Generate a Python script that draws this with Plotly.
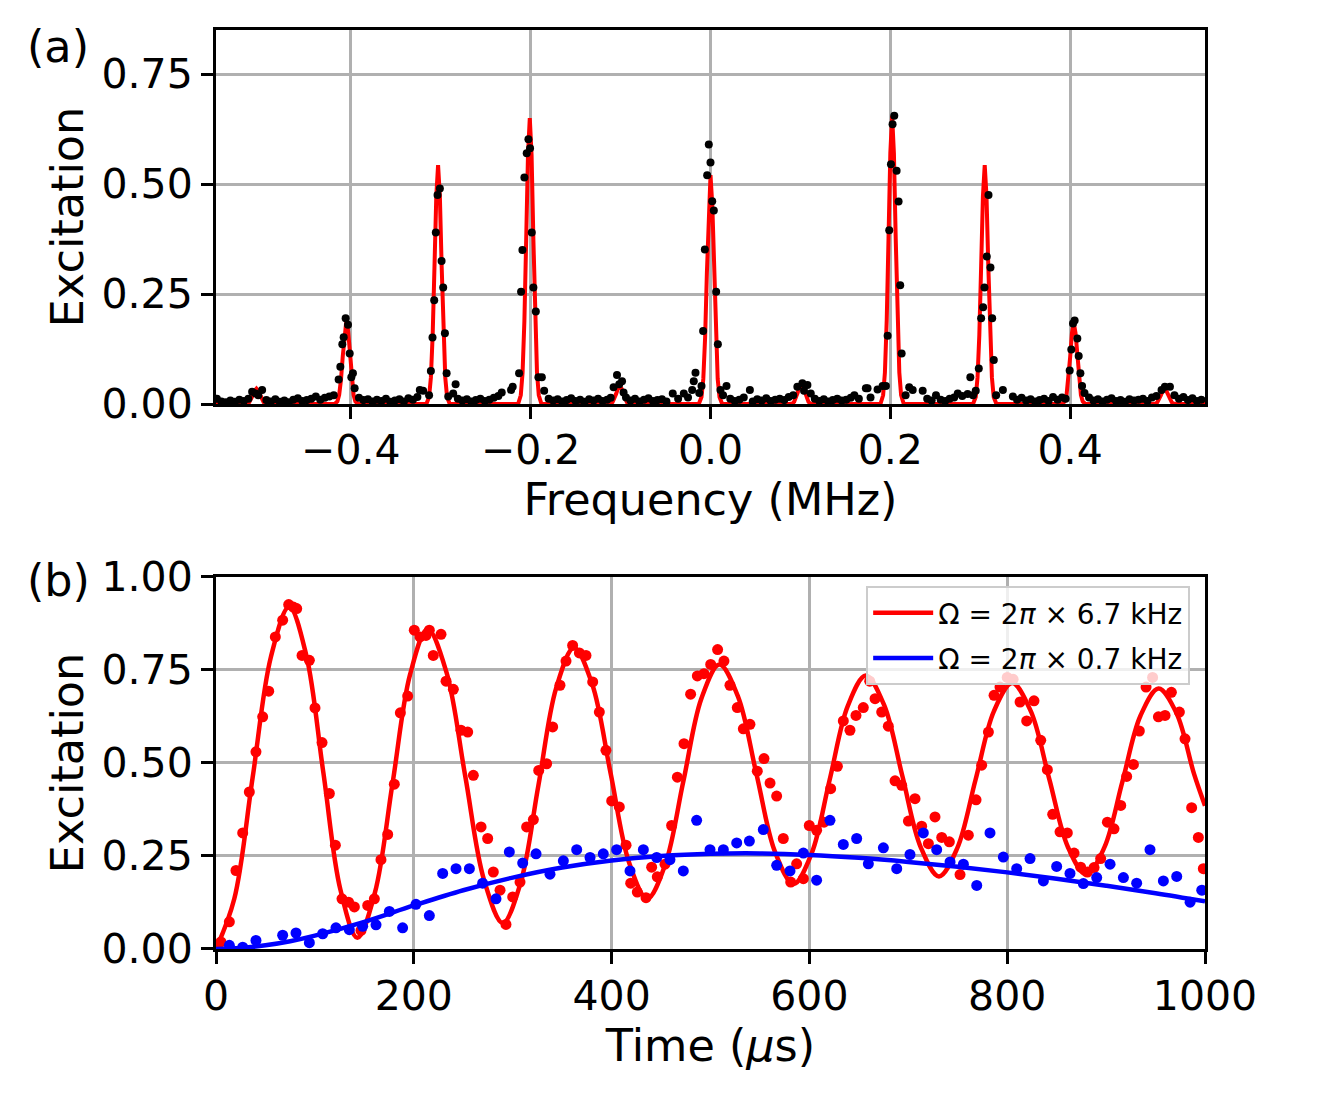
import plotly.graph_objects as go

# ---------------- Panel (a): spectrum ----------------
freq_fit = [-0.55,
    -0.518, -0.515, -0.513, -0.511, -0.509, -0.507, -0.505, -0.503, -0.501, -0.499, -0.497, -0.495, -0.492,
    -0.418, -0.415, -0.413, -0.411, -0.409, -0.407, -0.405, -0.403, -0.401, -0.399, -0.397, -0.395, -0.392,
    -0.316, -0.313, -0.311, -0.309, -0.307, -0.305, -0.303, -0.301, -0.299, -0.297, -0.295, -0.293, -0.290,
    -0.214, -0.211, -0.209, -0.207, -0.205, -0.203, -0.201, -0.199, -0.197, -0.195, -0.193, -0.191, -0.188,
    -0.114, -0.111, -0.109, -0.107, -0.105, -0.103, -0.101, -0.099, -0.097, -0.095, -0.093, -0.091, -0.088,
    -0.013, -0.010, -0.008, -0.006, -0.004, -0.002, 0.000, 0.002, 0.004, 0.006, 0.008, 0.010, 0.013,
    0.088, 0.091, 0.093, 0.095, 0.097, 0.099, 0.101, 0.103, 0.105, 0.107, 0.109, 0.111, 0.114,
    0.189, 0.192, 0.194, 0.196, 0.198, 0.200, 0.202, 0.204, 0.206, 0.208, 0.210, 0.212, 0.215,
    0.292, 0.295, 0.297, 0.299, 0.301, 0.303, 0.305, 0.307, 0.309, 0.311, 0.313, 0.315, 0.318,
    0.391, 0.394, 0.396, 0.398, 0.400, 0.402, 0.404, 0.406, 0.408, 0.410, 0.412, 0.414, 0.417,
    0.492, 0.495, 0.497, 0.499, 0.501, 0.503, 0.505, 0.507, 0.509, 0.511, 0.513, 0.515, 0.518,
    0.55]
exc_fit = [0.0,
    0, .001, .004, .010, .020, .030, .035, .030, .020, .010, .004, .001, 0,
    0, .006, .021, .055, .109, .165, .190, .165, .109, .055, .021, .006, 0,
    0, .016, .060, .157, .312, .472, .543, .472, .312, .157, .060, .016, 0,
    0, .020, .072, .189, .374, .566, .650, .566, .374, .189, .072, .020, 0,
    0, .001, .004, .012, .023, .035, .040, .035, .023, .012, .004, .001, 0,
    0, .016, .057, .151, .299, .452, .520, .452, .299, .151, .057, .016, 0,
    0, .001, .005, .013, .026, .039, .045, .039, .026, .013, .005, .001, 0,
    0, .020, .072, .190, .377, .570, .655, .570, .377, .190, .072, .020, 0,
    0, .016, .060, .157, .312, .472, .543, .472, .312, .157, .060, .016, 0,
    0, .006, .020, .054, .106, .161, .185, .161, .106, .054, .020, .006, 0,
    0, .001, .004, .010, .020, .030, .035, .030, .020, .010, .004, .001, 0,
    0.0]

freq_data = [
    -0.549, -0.544, -0.539, -0.534, -0.529, -0.524, -0.519, -0.514,
    -0.5098, -0.506, -0.503, -0.4987,
    -0.494, -0.489, -0.484, -0.479, -0.474, -0.469, -0.464, -0.459, -0.454, -0.449, -0.444, -0.439,
    -0.434, -0.429, -0.424, -0.419,
    -0.4136, -0.4117, -0.4095, -0.408, -0.4058, -0.4032, -0.4013, -0.3995, -0.3977, -0.3958,
    -0.391, -0.386, -0.381, -0.376, -0.371, -0.366, -0.361, -0.356, -0.351, -0.346, -0.341, -0.336,
    -0.331, -0.326,
    -0.3233, -0.3196, -0.313, -0.311, -0.3092, -0.3073, -0.3055, -0.3036, -0.301, -0.2991, -0.2973,
    -0.2954, -0.2935, -0.2917, -0.2862, -0.2835,
    -0.281, -0.276, -0.271, -0.266, -0.261, -0.256, -0.251, -0.246, -0.241, -0.236,
    -0.2322, -0.2218, -0.22, -0.2129, -0.2107, -0.2092, -0.207, -0.2044, -0.2025, -0.2007, -0.1988,
    -0.197, -0.1943, -0.1914, -0.1876, -0.185,
    -0.18, -0.175, -0.17, -0.165, -0.16, -0.155, -0.15, -0.145, -0.14, -0.135, -0.13, -0.125, -0.12,
    -0.115, -0.111,
    -0.1078, -0.104, -0.1015, -0.0984, -0.0967, -0.094,
    -0.089, -0.084, -0.079, -0.074, -0.069, -0.064, -0.059, -0.054, -0.049, -0.042, -0.036, -0.0297,
    -0.025,
    -0.0204, -0.0186, -0.0167, -0.0125, -0.01, -0.0082, -0.0063, -0.0037, -0.0019, 0.0, 0.0019,
    0.0037, 0.0063, 0.0082, 0.0111, 0.014, 0.0178,
    0.022, 0.027, 0.032, 0.037, 0.0438, 0.047, 0.052, 0.057, 0.062, 0.067, 0.072, 0.077, 0.082,
    0.087,
    0.092, 0.0966, 0.1022, 0.104, 0.1078, 0.1115,
    0.116, 0.121, 0.126, 0.131, 0.136, 0.141, 0.146, 0.151, 0.156, 0.16, 0.165, 0.1728, 0.1747,
    0.178, 0.1858,
    0.1914, 0.1951, 0.197, 0.1988, 0.2007, 0.2025, 0.2044, 0.207, 0.2092, 0.211, 0.2126, 0.217,
    0.221, 0.2249, 0.236,
    0.241, 0.246, 0.2508, 0.256, 0.261, 0.266, 0.271, 0.275, 0.28, 0.286,
    0.289, 0.292, 0.295, 0.2984, 0.301, 0.3032, 0.3047, 0.3073, 0.3092, 0.3114, 0.3133, 0.3151,
    0.3177, 0.3252, 0.3363,
    0.341, 0.346, 0.351, 0.356, 0.361, 0.366, 0.371, 0.376, 0.381, 0.386, 0.391, 0.395,
    0.3995, 0.4013, 0.4032, 0.405, 0.408, 0.4095, 0.4114, 0.4133, 0.416, 0.421,
    0.426, 0.431, 0.436, 0.441, 0.446, 0.451, 0.456, 0.461, 0.466, 0.471, 0.476, 0.481, 0.486,
    0.491, 0.496, 0.5017, 0.5054, 0.511, 0.516, 0.521, 0.526, 0.531, 0.536, 0.541, 0.546]
exc_data = [
    0.012, 0.006, 0.004, 0.008, 0.005, 0.010, 0.007, 0.012,
    0.028, 0.024, 0.020, 0.032,
    0.009, 0.006, 0.011, 0.005, 0.008, 0.004, 0.010, 0.013, 0.007, 0.009, 0.012, 0.017,
    0.010, 0.014, 0.017, 0.020,
    0.056, 0.085, 0.136, 0.152, 0.195, 0.180, 0.115, 0.061, 0.070, 0.036,
    0.014, 0.009, 0.011, 0.006, 0.010, 0.007, 0.012, 0.005, 0.008, 0.011, 0.006, 0.013,
    0.010, 0.016,
    0.032, 0.030, 0.020, 0.075, 0.151, 0.236, 0.390, 0.475, 0.490, 0.325, 0.265,
    0.161, 0.070, 0.017, 0.024, 0.045,
    0.012, 0.008, 0.011, 0.006, 0.009, 0.012, 0.007, 0.010, 0.014, 0.018,
    0.026, 0.032, 0.039, 0.070, 0.255, 0.350, 0.515, 0.570, 0.602, 0.581, 0.390,
    0.265, 0.210, 0.061, 0.061, 0.030,
    0.012, 0.008, 0.011, 0.006, 0.009, 0.013, 0.007, 0.010, 0.005, 0.011, 0.008, 0.012, 0.007,
    0.010, 0.014,
    0.038, 0.066, 0.045, 0.052, 0.026, 0.015,
    0.008, 0.012, 0.006, 0.010, 0.013, 0.007, 0.009, 0.011, 0.006, 0.024, 0.012, 0.024,
    0.015,
    0.032, 0.052, 0.071, 0.025, 0.041, 0.166, 0.351, 0.520, 0.590, 0.549, 0.461,
    0.440, 0.255, 0.136, 0.032, 0.020, 0.041,
    0.012, 0.007, 0.010, 0.015, 0.032, 0.006, 0.011, 0.008, 0.013, 0.007, 0.010, 0.012, 0.009,
    0.016,
    0.020, 0.039, 0.047, 0.030, 0.043, 0.024,
    0.012, 0.007, 0.011, 0.006, 0.009, 0.012, 0.008, 0.010, 0.014, 0.020, 0.012, 0.036, 0.036,
    0.015, 0.033,
    0.041, 0.041, 0.155, 0.395, 0.545, 0.636, 0.655, 0.530, 0.460, 0.270, 0.115, 0.020,
    0.038, 0.032, 0.030,
    0.012, 0.008, 0.020, 0.010, 0.007, 0.012, 0.015, 0.024, 0.018, 0.023,
    0.061, 0.020, 0.030, 0.081, 0.195, 0.220, 0.265, 0.335, 0.475, 0.310, 0.195, 0.100,
    0.020, 0.032, 0.017,
    0.010, 0.014, 0.008, 0.011, 0.006, 0.009, 0.012, 0.007, 0.016, 0.010, 0.015, 0.012,
    0.076, 0.124, 0.183, 0.190, 0.149, 0.109, 0.070, 0.041, 0.025, 0.015,
    0.008, 0.011, 0.006, 0.010, 0.013, 0.007, 0.009, 0.005, 0.011, 0.008, 0.010, 0.012, 0.007,
    0.015, 0.018, 0.032, 0.039, 0.039, 0.020, 0.012, 0.016, 0.009, 0.013, 0.007, 0.010]

freq_ticks = [-0.4, -0.2, 0.0, 0.2, 0.4]
freq_tick_labels = ["\u22120.4", "\u22120.2", "0.0", "0.2", "0.4"]
exc_ticks_a = [0.0, 0.25, 0.5, 0.75]
exc_tick_labels_a = ["0.00", "0.25", "0.50", "0.75"]

# ---------------- Panel (b): Rabi oscillations ----------------
t_fast_fit = [0, 18.5, 37, 55.5, 74, 91.25, 108.5, 125.75, 143, 160.75, 178.5, 196.25, 214,
              233, 252, 271, 290, 308, 326, 344, 362, 380.5, 399, 417.5, 436, 454.25, 472.5,
              490.75, 509, 527.75, 546.5, 565.25, 584, 602.25, 620.5, 638.75, 657, 675.5, 694,
              712.5, 731, 749.5, 768, 786.5, 805, 823.75, 842.5, 861.25, 880, 898.25, 916.5,
              934.75, 953, 971, 989, 1000]
exc_fast_fit = [0.0, 0.135, 0.46, 0.785, 0.92, 0.79, 0.475, 0.16, 0.03, 0.152, 0.445, 0.738, 0.86,
                0.744, 0.465, 0.186, 0.07, 0.178, 0.44, 0.702, 0.81, 0.711, 0.4725, 0.234, 0.135,
                0.227, 0.45, 0.673, 0.765, 0.679, 0.47, 0.261, 0.175, 0.257, 0.455, 0.653, 0.735,
                0.656, 0.465, 0.274, 0.195, 0.271, 0.455, 0.639, 0.715, 0.64, 0.4575, 0.275, 0.20,
                0.273, 0.45, 0.627, 0.70, 0.635, 0.47, 0.385]

t_fast = [5, 13.5, 20.2, 27, 33.7, 40.4, 47.2, 53.3, 60, 67.4, 73.5, 78.2, 81.6, 87, 94.4, 100.1,
          107.2, 114.6, 120.7, 127.4, 134.1, 139.9, 146.6, 153.4, 160.1, 166.8, 173.6, 180.3,
          186.4, 193.8, 200.5, 206.3, 212.3, 215.7, 219.7, 227.5, 232.6, 240, 247.7, 254.5,
          260.2, 268, 274.7, 280.4, 287.2, 293.2, 300, 307.4, 314.1, 320.9, 326.3,
          334.3, 340.4, 347.8, 353.9, 360.6, 367.4, 374.1, 380.9, 387.6, 394.3, 400.1, 407.8,
          414.6, 419.3, 426, 434.8, 440.5, 446.2, 454, 460.7, 466.5, 473.2, 479.9, 486.7, 493.4,
          500.2, 507.2, 513.6, 519.7, 527.1, 533.2, 539.9, 547.3, 554.1, 560.2, 566.9, 573.6,
          581.1, 587.1, 593.9, 599.9, 607.3, 614.8, 621.5, 628.3, 634.3, 641, 647.1, 654.5,
          661, 666.4, 673.1, 679.8, 686.6, 693.3, 700.1, 706.8, 713.5, 720.3, 727, 733.8, 741.5,
          752.3, 760.7, 768.5, 774.2, 781, 786.7, 792.7, 800, 806, 813, 819.7, 827.1, 833.9,
          840.6, 846, 853.4, 860.8, 867.6, 874.3, 881.1, 887.8, 894.5, 901.3, 908, 914.8, 920.8,
          927.6, 933.6, 940.4, 947, 952.9, 959.6, 966, 974.1, 979.8, 986.5, 993.3, 998.3]
exc_fast = [0.019, 0.073, 0.211, 0.312, 0.422, 0.53, 0.624, 0.693, 0.839, 0.884, 0.926, 0.919,
            0.915, 0.789, 0.776, 0.648, 0.555, 0.418, 0.279, 0.135, 0.126, 0.113, 0.05, 0.117,
            0.135, 0.24, 0.308, 0.443, 0.635, 0.68, 0.857, 0.839, 0.843, 0.857, 0.789, 0.846,
            0.72, 0.698, 0.588, 0.583, 0.467, 0.328, 0.297, 0.207, 0.158, 0.066, 0.14, 0.18,
            0.328, 0.348, 0.48,
            0.498, 0.597, 0.709, 0.774, 0.816, 0.796, 0.789, 0.718, 0.637, 0.534, 0.398, 0.382,
            0.279, 0.177, 0.153, 0.138, 0.22, 0.194, 0.228, 0.332, 0.462, 0.552, 0.685, 0.734,
            0.74, 0.765, 0.805, 0.774, 0.709, 0.649, 0.592, 0.604, 0.478, 0.512, 0.446, 0.411,
            0.297, 0.18, 0.229, 0.189, 0.332, 0.319, 0.341, 0.431, 0.491, 0.613, 0.588, 0.628,
            0.649,
            0.72, 0.673, 0.637, 0.599, 0.452, 0.44, 0.344, 0.404, 0.33, 0.283, 0.355, 0.30,
            0.288, 0.20, 0.306, 0.401, 0.494, 0.583, 0.682, 0.704, 0.73, 0.725, 0.664, 0.613,
            0.667, 0.561, 0.482, 0.362, 0.315, 0.312, 0.258, 0.22, 0.207, 0.219, 0.243, 0.341,
            0.323, 0.386, 0.464, 0.496, 0.586, 0.704, 0.73, 0.624, 0.628, 0.69, 0.637, 0.565,
            0.38, 0.30, 0.216]

t_slow_fit = [0, 25, 50, 75, 100, 150, 200, 250, 300, 350, 400, 450, 500, 550, 600, 650, 700,
              750, 800, 850, 900, 950, 1000]
exc_slow_fit = [0.0, 0.003, 0.01, 0.021, 0.036, 0.073, 0.117, 0.158, 0.192, 0.219, 0.238, 0.25,
                0.256, 0.257, 0.253, 0.245, 0.234, 0.221, 0.206, 0.189, 0.17, 0.15, 0.128]

t_slow = [13.5, 27, 40.4, 67.4, 80.9, 94.4, 107.9, 121.3, 134.8, 148.3, 161.8, 175.3, 188.7,
          202.2, 215.7, 229.2, 242.7, 256.2, 269.6, 283.1, 296.6, 310.1, 323.6, 337.7, 351.2,
          364.7, 378.2, 391.6, 405.1, 418.6, 432.1, 445.6, 459, 472.5, 486, 499.5, 513, 526.5,
          539.3, 553.4, 566.9, 580.4, 593.9, 607.3, 620.8, 634.3, 647.8, 659.6, 674.8, 688.3,
          701.7, 715.2, 728.7, 742.2, 755.7, 769.2, 782.6, 796.1, 809.6, 823.1, 836.6, 850,
          863.5, 877, 890.5, 904, 917.5, 930.9, 944.4, 957.9, 971.4, 984.9, 996.7]
exc_slow = [0.01, 0.005, 0.023, 0.037, 0.043, 0.017, 0.041, 0.057, 0.052, 0.061, 0.065, 0.101,
            0.057, 0.12, 0.09, 0.203, 0.216, 0.216, 0.177, 0.135, 0.261, 0.231, 0.256, 0.201,
            0.237, 0.267, 0.246, 0.256, 0.267, 0.21, 0.267, 0.246, 0.24, 0.21, 0.346, 0.267,
            0.267, 0.285, 0.29, 0.321, 0.225, 0.21, 0.258, 0.185, 0.346, 0.281, 0.297, 0.229,
            0.272, 0.216, 0.254, 0.312, 0.267, 0.234, 0.228, 0.171, 0.312, 0.247, 0.216, 0.243,
            0.183, 0.222, 0.203, 0.176, 0.192, 0.228, 0.192, 0.177, 0.267, 0.183, 0.195, 0.126,
            0.158]

time_ticks = [0, 200, 400, 600, 800, 1000]
exc_ticks_b = [0.0, 0.25, 0.5, 0.75, 1.0]
exc_tick_labels_b = ["0.00", "0.25", "0.50", "0.75", "1.00"]

legend_fast = "\u03a9 = 2<i>\u03c0</i> \u00d7 6.7 kHz"
legend_slow = "\u03a9 = 2<i>\u03c0</i> \u00d7 0.7 kHz"

FONT = "DejaVu Sans"
TICK_FS = 41
TITLE_FS = 44.5

fig = go.Figure()

# Panel (a)
fig.add_trace(go.Scatter(x=freq_fit, y=exc_fit, mode="lines",
                         line=dict(color="#ff0000", width=4), showlegend=False,
                         xaxis="x", yaxis="y"))
fig.add_trace(go.Scatter(x=freq_data, y=exc_data, mode="markers",
                         marker=dict(color="black", size=8), showlegend=False,
                         xaxis="x", yaxis="y"))

# Panel (b)
fig.add_trace(go.Scatter(x=t_fast, y=exc_fast, mode="markers",
                         marker=dict(color="#ff0000", size=11), showlegend=False,
                         xaxis="x2", yaxis="y2"))
fig.add_trace(go.Scatter(x=t_fast_fit, y=exc_fast_fit, mode="lines",
                         line=dict(color="#ff0000", width=4.5, shape="spline", smoothing=1.0),
                         name=legend_fast, legendgroup="fast", xaxis="x2", yaxis="y2"))
fig.add_trace(go.Scatter(x=t_slow, y=exc_slow, mode="markers",
                         marker=dict(color="#0000ff", size=11), showlegend=False,
                         xaxis="x2", yaxis="y2"))
fig.add_trace(go.Scatter(x=t_slow_fit, y=exc_slow_fit, mode="lines",
                         line=dict(color="#0000ff", width=4.5, shape="spline", smoothing=1.0),
                         name=legend_slow, legendgroup="slow", xaxis="x2", yaxis="y2"))

axis_common = dict(
    showline=True, linecolor="black", linewidth=3, mirror=True,
    ticks="outside", ticklen=12, tickwidth=2.5, tickcolor="black",
    showgrid=True, gridcolor="#b0b0b0", gridwidth=2.5, zeroline=False,
    automargin=False,
    tickfont=dict(family=FONT, size=TICK_FS, color="black"),
)

fig.update_layout(
    width=1338, height=1098,
    margin=dict(l=216, r=133, t=30, b=149, autoexpand=False),
    paper_bgcolor="white", plot_bgcolor="white",
    font=dict(family=FONT, color="black"),
    xaxis=dict(domain=[0, 1], anchor="y", range=[-0.55, 0.55],
               tickvals=freq_ticks, ticktext=freq_tick_labels, ticklabelstandoff=-4,
               title=dict(text="Frequency (MHz)", font=dict(family=FONT, size=TITLE_FS), standoff=0),
               **axis_common),
    yaxis=dict(domain=[0.593, 1], anchor="x", range=[0, 0.85],
               tickvals=exc_ticks_a, ticktext=exc_tick_labels_a,
               title=dict(text="Excitation", font=dict(family=FONT, size=TITLE_FS), standoff=4),
               **axis_common),
    xaxis2=dict(domain=[0, 1], anchor="y2", range=[0, 1000],
                tickvals=time_ticks, ticklabelstandoff=-3,
                title=dict(text="Time (<i>\u03bc</i>s)", font=dict(family=FONT, size=TITLE_FS), standoff=0),
                **axis_common),
    yaxis2=dict(domain=[0, 0.4048], anchor="x2", range=[0, 1.0],
                tickvals=exc_ticks_b, ticktext=exc_tick_labels_b,
                title=dict(text="Excitation", font=dict(family=FONT, size=TITLE_FS), standoff=4),
                **axis_common),
    legend=dict(x=0.985, y=0.395, xanchor="right", yanchor="top",
                bgcolor="rgba(255,255,255,0.8)", bordercolor="#cccccc", borderwidth=2,
                tracegroupgap=6, itemwidth=60,
                font=dict(family=FONT, size=28, color="black")),
    annotations=[
        dict(text="(a)", xref="paper", yref="paper", x=-0.193, y=0.982,
             xanchor="left", yanchor="middle", showarrow=False,
             font=dict(family=FONT, size=TITLE_FS, color="black")),
        dict(text="(b)", xref="paper", yref="paper", x=-0.193, y=0.4015,
             xanchor="left", yanchor="middle", showarrow=False,
             font=dict(family=FONT, size=TITLE_FS, color="black")),
    ],
)

fig.write_html("out.html")
